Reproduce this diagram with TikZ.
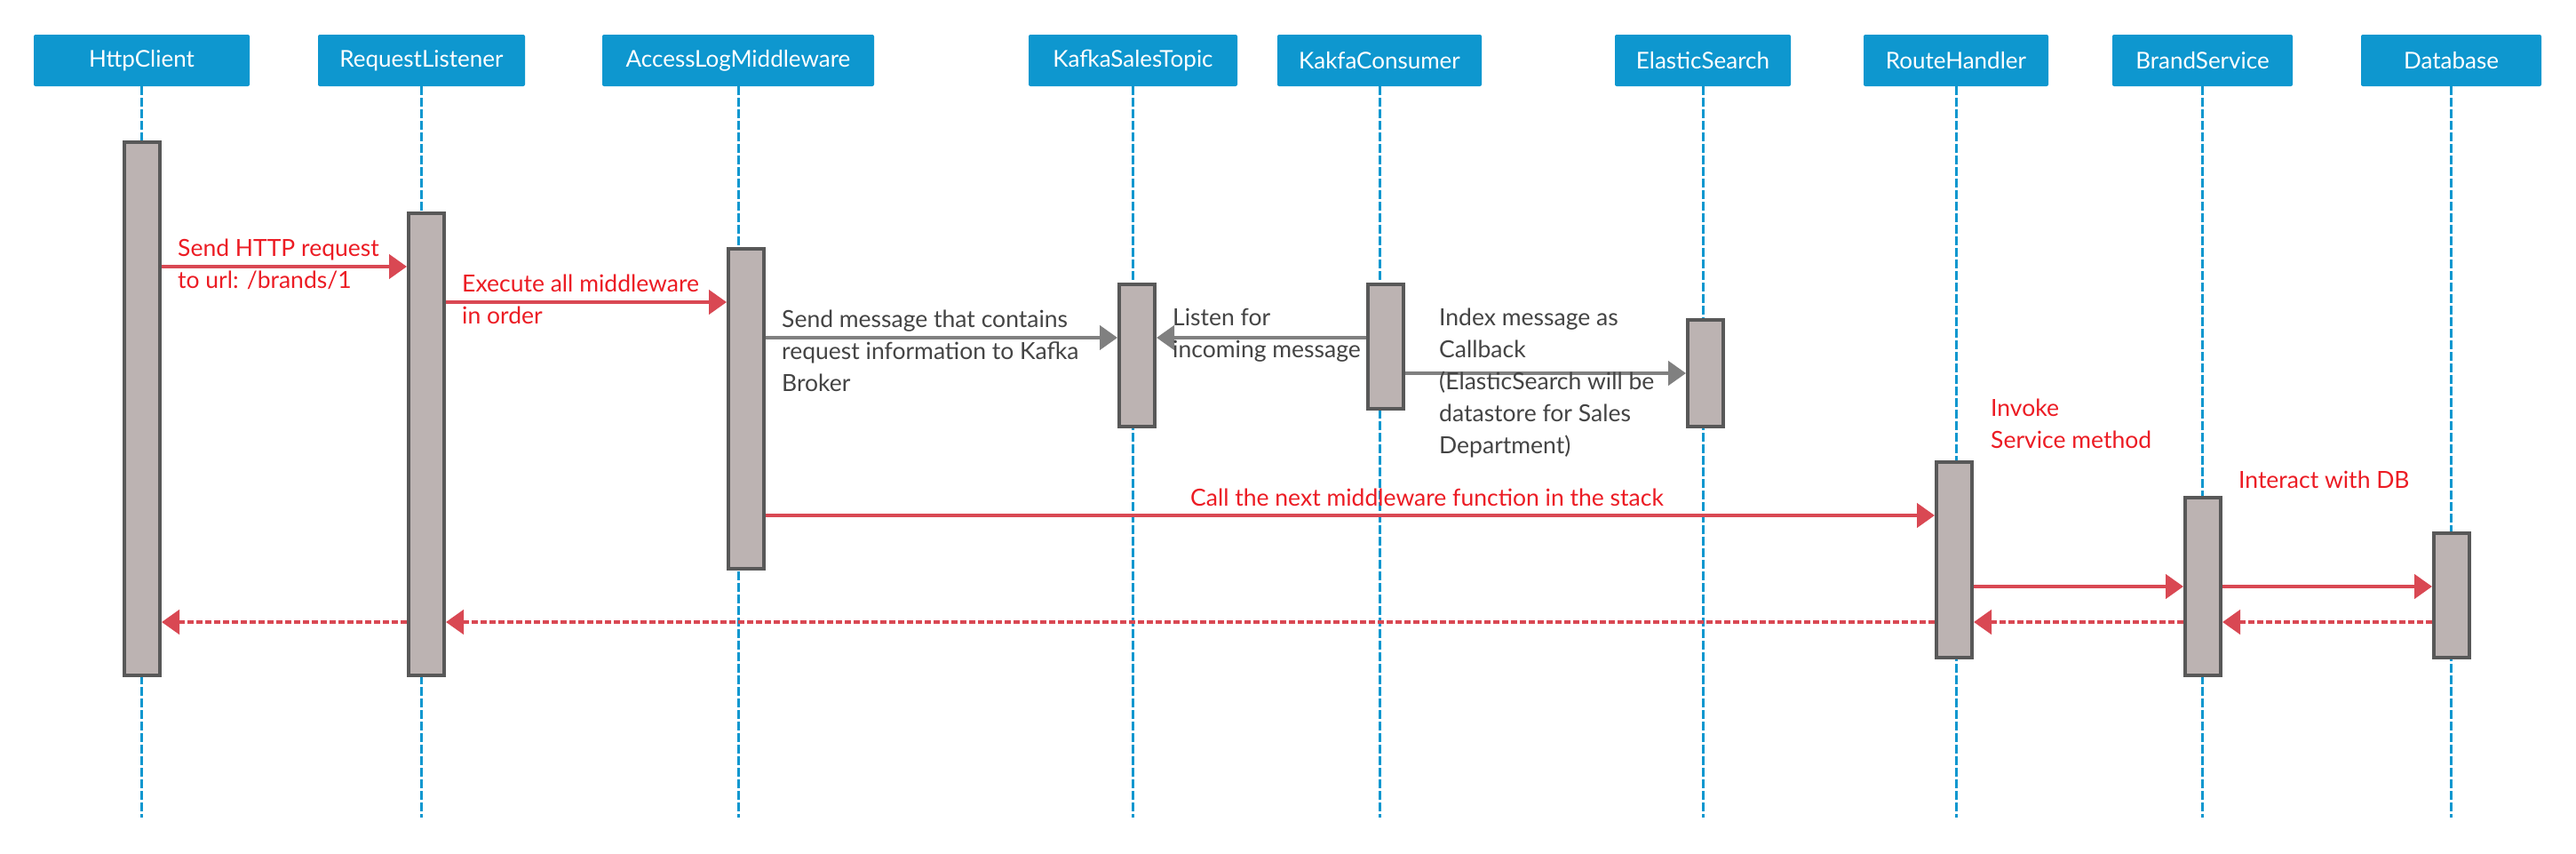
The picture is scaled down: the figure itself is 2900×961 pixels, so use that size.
\documentclass[tikz,border=0pt]{standalone}
\usepackage{fontspec}
\setmainfont{Lato}
\usetikzlibrary{arrows.meta}
\definecolor{hblue}{RGB}{14,151,207}
\definecolor{barfill}{RGB}{188,179,178}
\definecolor{bardraw}{RGB}{88,88,88}
\definecolor{ared}{RGB}{217,72,83}
\definecolor{tred}{RGB}{236,28,36}
\definecolor{agray}{RGB}{128,128,128}
\definecolor{tgray}{RGB}{68,68,68}
\begin{document}
\begin{tikzpicture}[x=1pt,y=-1pt,
  head/.style={fill=hblue, rounded corners=2pt, text=white, minimum height=58pt, inner sep=0pt, font=\fontsize{26}{30}\selectfont},
  life/.style={draw=hblue, line width=3pt, dash pattern=on 10pt off 3pt},
  bar/.style={draw=bardraw, fill=barfill, line width=4pt, minimum width=40pt, inner sep=0pt},
  call/.style={draw=ared, line width=4.5pt, -{Triangle[length=20pt,width=27pt]}},
  ret/.style={call, dash pattern=on 7pt off 3pt},
  async/.style={draw=agray, line width=4.5pt, -{Triangle[length=20pt,width=27pt]}},
  rlabel/.style={text=tred, align=left, inner sep=0pt, font=\fontsize{26.5}{36}\selectfont},
  glabel/.style={rlabel, text=tgray},
]
\useasboundingbox (0,0) rectangle (2900,961);
\fill[white] (0,0) rectangle (2900,961);

% heads
\node[head, minimum width=243pt] (hc) at (159.5,68) {HttpClient};
\node[head, minimum width=233pt] (rl) at (474.5,68) {RequestListener};
\node[head, minimum width=306pt] (alm) at (831,68) {AccessLogMiddleware};
\node[head, minimum width=235pt] (kst) at (1275.5,68) {KafkaSalesTopic};
\node[head, minimum width=230pt] (kc) at (1553,68) {KakfaConsumer};
\node[head, minimum width=198pt] (es) at (1917,68) {ElasticSearch};
\node[head, minimum width=208pt] (rh) at (2202,68) {RouteHandler};
\node[head, minimum width=203pt] (bs) at (2479.5,68) {BrandService};
\node[head, minimum width=203pt] (db) at (2759.5,68) {Database};

% lifelines
\foreach \n in {hc,rl,alm,kst,kc,es,rh,bs,db}
  \draw[life] (\n.south) -- (\n.south |- 0,920);

% activation bars
\node[bar, minimum height=600pt] (hcb) at (160,460) {};
\node[bar, minimum height=520pt] (rlb) at (480,500) {};
\node[bar, minimum height=360pt] (almb) at (840,460) {};
\node[bar, minimum height=160pt] (kstb) at (1280,400) {};
\node[bar, minimum height=140pt] (kcb) at (1560,390) {};
\node[bar, minimum height=120pt] (esb) at (1920,420) {};
\node[bar, minimum height=220pt] (rhb) at (2200,630) {};
\node[bar, minimum height=200pt] (bsb) at (2480,660) {};
\node[bar, minimum height=140pt] (dbb) at (2760,670) {};

% messages
\draw[call] (hcb.east |- 0,300) -- (rlb.west |- 0,300);
\draw[call] (rlb.east |- 0,340) -- (almb.west |- 0,340);
\draw[async] (almb.east |- 0,380) -- (kstb.west |- 0,380);
\draw[async] (kcb.west |- 0,380) -- (kstb.east |- 0,380);
\draw[async] (kcb.east |- 0,420) -- (esb.west |- 0,420);
\draw[call] (almb.east |- 0,580) -- (rhb.west |- 0,580);
\draw[call] (rhb.east |- 0,660) -- (bsb.west |- 0,660);
\draw[call] (bsb.east |- 0,660) -- (dbb.west |- 0,660);
\draw[ret] (dbb.west |- 0,700) -- (bsb.east |- 0,700);
\draw[ret] (bsb.west |- 0,700) -- (rhb.east |- 0,700);
\draw[ret] (rhb.west |- 0,700) -- (rlb.east |- 0,700);
\draw[ret] (rlb.west |- 0,700) -- (hcb.east |- 0,700);

% labels
\node[rlabel, anchor=west] (l1) at (200,297) {Send HTTP request\\to url: /brands/1};
\node[rlabel, anchor=west] (l2) at (520,337) {Execute all middleware\\in order};
\node[glabel, anchor=west] (l3) at (880,395) {Send message that contains\\request information to Kafka\\Broker};
\node[glabel, anchor=west] (l4) at (1320,377) {Listen for\\incoming message};
\node[glabel, anchor=west] (l5) at (1620,431) {Index message as\\Callback\\(ElasticSearch will be\\datastore for Sales\\Department)};
\node[rlabel, anchor=west] (l6) at (1340,560) {Call the next middleware function in the stack};
\node[rlabel, anchor=west] (l7) at (2241,477) {Invoke\\Service method};
\node[rlabel, anchor=west] (l8) at (2520,540) {Interact with DB};
\end{tikzpicture}
\end{document}
